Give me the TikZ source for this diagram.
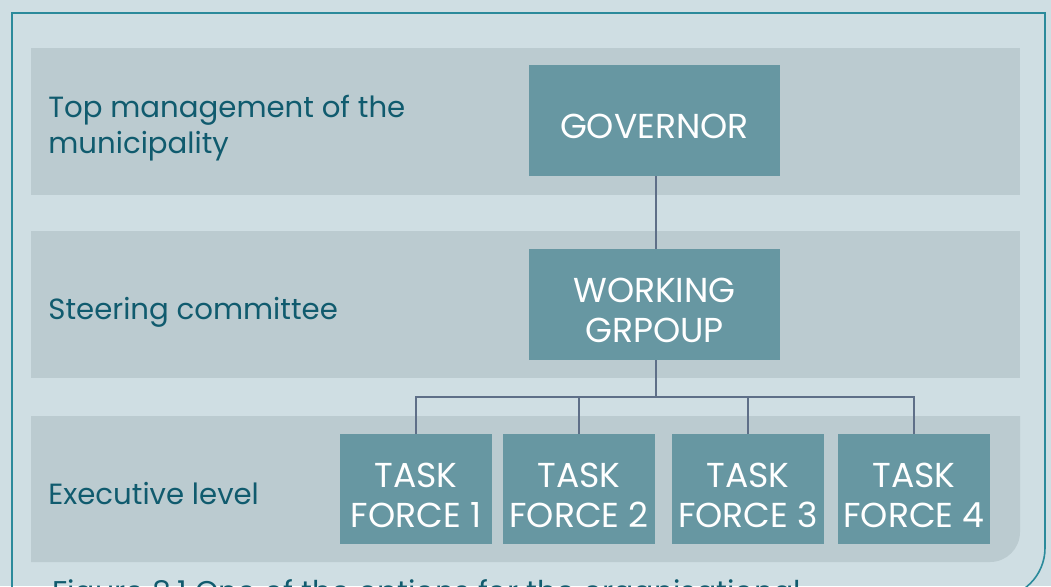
\documentclass[tikz,border=0pt]{standalone}
\usepackage{fontspec}
\setmainfont{Poppins}
\usetikzlibrary{positioning}

\definecolor{pagebg}{HTML}{CFDEE3}
\definecolor{framecol}{HTML}{2B8A9B}
\definecolor{bandfill}{HTML}{BBCBD0}
\definecolor{boxfill}{HTML}{6797A2}
\definecolor{linecol}{HTML}{5E6F88}
\definecolor{labelcol}{HTML}{105B6E}

% pushes the box text a little below the middle
\newcommand{\boxstrut}{\rule{0pt}{18.2pt}}

\tikzset{
  band/.style={fill=bandfill,draw=none},
  unitbox/.style={fill=boxfill,text=white,align=center,inner sep=0pt,
    minimum width=125.5pt,minimum height=55.5pt,font=\fontsize{17.3}{20}\selectfont},
  taskbox/.style={unitbox,minimum width=76pt,minimum height=55pt},
  levellabel/.style={anchor=base west,align=left,inner sep=0pt,text=labelcol,
    font=\fontsize{14.6}{18}\selectfont},
  link/.style={draw=linecol,line width=1pt}
}

\begin{document}
\begin{tikzpicture}[x=0.5pt,y=-0.5pt]
  \useasboundingbox[fill=pagebg] (0,0) rectangle (1051,586);
  \clip (0,0) rectangle (1051,586);
  % frame
  \draw[framecol,line width=0.8pt] (12,640) -- (12,13) -- (1045,13)
    [rounded corners=25pt] -- (1045,598) [sharp corners] -- (12,598);
  % level bands
  \fill[band] (31,48) rectangle (1020,195);
  \fill[band] (31,231) rectangle (1020,378);
  \fill[band] (31,416) -- (1020,416) [rounded corners=15pt] -- (1020,562)
    [sharp corners] -- (31,562) -- cycle;
  % level labels
  \node[levellabel](lvltop)at(48, 153){Top management of the\\municipality};
  \node[levellabel](lvlsteer)at(48, 319){Steering committee};
  \node[levellabel](lvlexec)at(48, 504){Executive level};
  % units
  \node[unitbox](gov)at(654.5, 120.5){\boxstrut GOVERNOR};
  \node[unitbox](wg)at(654.5, 304.5){\boxstrut WORKING\\GRPOUP};
  \node[taskbox](tf1)at(416, 489){\boxstrut TASK\\FORCE 1};
  \node[taskbox](tf2)at(579, 489){\boxstrut TASK\\FORCE 2};
  \node[taskbox](tf3)at(748, 489){\boxstrut TASK\\FORCE 3};
  \node[taskbox](tf4)at(914, 489){\boxstrut TASK\\FORCE 4};
  \coordinate(bus)at(656, 397);
  \path[link](gov.south -| bus) -- (wg.north -| bus)
    (wg.south -| bus) -- (bus)
    (bus) -| (tf1.north)
    (bus) -| (tf2.north)
    (bus) -| (tf3.north)
    (bus) -| (tf4.north);
  % caption, cut by the page edge
  \node[anchor=base west,inner sep=0pt,text=labelcol,
    font=\fontsize{15}{18}\selectfont](caption)at(52, 602)
    {Figure 8.1 One of the options for the organisational};
\end{tikzpicture}
\end{document}
